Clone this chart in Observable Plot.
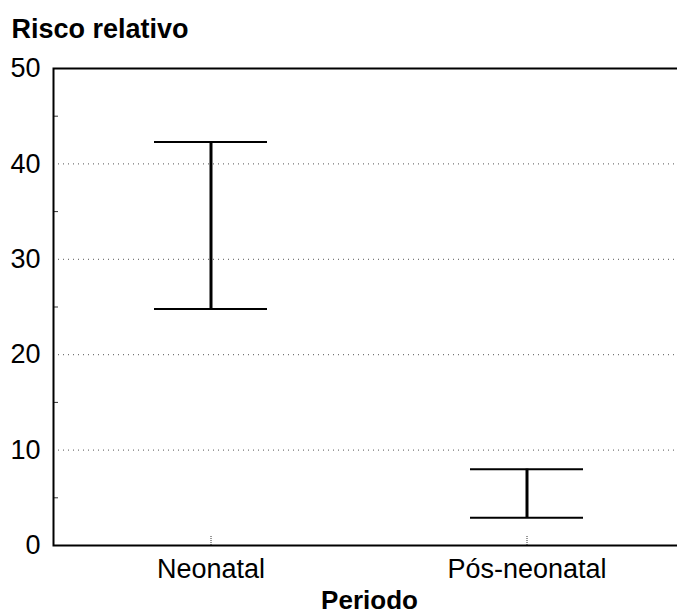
<!DOCTYPE html>
<html>
<head>
<meta charset="utf-8">
<script src="https://cdn.jsdelivr.net/npm/d3@7"></script>
<script src="https://cdn.jsdelivr.net/npm/@observablehq/plot@0.6"></script>
<style>
html, body { margin: 0; padding: 0; overflow: hidden; background: #fff; }
svg { font-family: "Liberation Sans", Arial, sans-serif; }
</style>
</head>
<body>
<div id="chart"></div>
<script>
const periods = ["Neonatal", "Pós-neonatal"];
const lower = [24.8, 2.9];
const upper = [42.3, 8.0];
const yTicks = [0, 10, 20, 30, 40, 50];
const gridValues = [10, 20, 30, 40];
const minorTicks = [5, 15, 25, 35, 45];
const titleText = "Risco relativo";
const xLabel = "Periodo";

const data = periods.map((p, i) => ({period: p, lo: lower[i], hi: upper[i]}));

const chart = Plot.plot({
  width: 677,
  height: 615,
  marginLeft: 53,
  marginRight: -8,
  marginTop: 68,
  marginBottom: 70,
  style: {fontFamily: "'Liberation Sans', Arial, sans-serif", background: "white", overflow: "hidden"},
  x: {type: "band", domain: periods, paddingInner: 0.642, paddingOuter: 0.321},
  y: {domain: [0, 50]},
  marks: [
    Plot.ruleY(gridValues, {stroke: "#555", strokeWidth: 1, strokeDasharray: "1,4"}),
    Plot.axisY(minorTicks, {tickSize: -5, tickFormat: () => "", stroke: "#333", label: null}),
    Plot.ruleX(periods, {x: d => d, y1: 0, y2: 1, stroke: "#333", strokeDasharray: "1,1"}),
    Plot.tickY(data, {x: "period", y: "hi", stroke: "black", strokeWidth: 2}),
    Plot.tickY(data, {x: "period", y: "lo", stroke: "black", strokeWidth: 2}),
    Plot.ruleX(data, {x: "period", y1: "lo", y2: "hi", stroke: "black", strokeWidth: 3}),
    Plot.frame({stroke: "black", strokeWidth: 2}),
    Plot.axisY(yTicks, {tickSize: 0, tickPadding: 13, fontSize: 27, fill: "black", label: null}),
    Plot.axisX({tickSize: 0, tickPadding: 13, fontSize: 27, fill: "black", label: null}),
    Plot.text([titleText], {frameAnchor: "top-left", text: d => d, textAnchor: "start", lineAnchor: "bottom", dx: -42, dy: -31, fontSize: 27, fontWeight: "bold", fill: "black"}),
    Plot.text([xLabel], {frameAnchor: "bottom", text: d => d, textAnchor: "middle", lineAnchor: "bottom", dy: 63, fontSize: 26, fontWeight: "bold", fill: "black"})
  ]
});
document.getElementById("chart").appendChild(chart);
</script>
</body>
</html>
